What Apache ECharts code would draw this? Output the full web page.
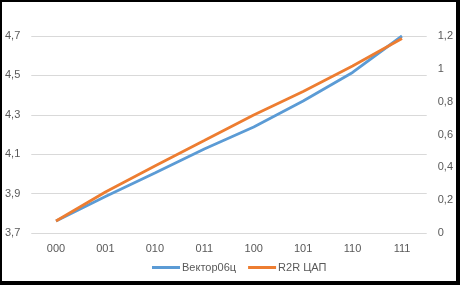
<!DOCTYPE html>
<html>
<head>
<meta charset="utf-8">
<script src="https://cdn.jsdelivr.net/npm/echarts@6/dist/echarts.min.js"></script>
<style>
html,body{margin:0;padding:0;}
#frame{position:relative;width:460px;height:285px;background:#000;}
#chart{position:absolute;left:2px;top:2px;width:454px;height:279px;background:#fff;}
</style>
</head>
<body>
<div id="frame"><div id="chart"></div></div>
<script>
var categories = ['000','001','010','011','100','101','110','111'];
var vectorValues = [3.761, 3.885, 4.005, 4.126, 4.238, 4.370, 4.515, 4.700];
var r2rValues = [0.073, 0.250, 0.408, 0.563, 0.719, 0.862, 1.017, 1.185];
var seriesNames = ['Вектор06ц', 'R2R ЦАП'];
var leftTicks = {min: 3.7, max: 4.7, interval: 0.2};
var rightTicks = {min: 0, max: 1.2, interval: 0.2};

function fmt(v){
  var r = Math.round(v*10)/10;
  return String(r).replace('.', ',');
}
var font = 'Liberation Sans';
var chart = echarts.init(document.getElementById('chart'), null, {renderer:'canvas'});
chart.setOption({
  animation:false,
  backgroundColor:'#fff',
  textStyle:{fontFamily:font},
  grid:{left:28, top:34, right:26, bottom:48, containLabel:false},
  legend:{
    top:255, left:145,
    itemWidth:28, itemHeight:3, itemGap:12,
    icon:'rect',
    textStyle:{color:'#595959', fontSize:11, fontFamily:font, padding:[0,0,0,-3]},
    data:seriesNames
  },
  xAxis:{
    type:'category', data:categories, boundaryGap:true,
    axisLine:{show:false}, axisTick:{show:false},
    axisLabel:{color:'#595959', fontSize:11, margin:10, fontFamily:font}
  },
  yAxis:[
    {type:'value', min:leftTicks.min, max:leftTicks.max, interval:leftTicks.interval,
     position:'left',
     axisLine:{show:false}, axisTick:{show:false},
     splitLine:{lineStyle:{color:'#d9d9d9', width:1}},
     axisLabel:{color:'#595959', fontSize:11, margin:11, formatter:fmt, fontFamily:font}},
    {type:'value', min:rightTicks.min, max:rightTicks.max, interval:rightTicks.interval,
     position:'right',
     axisLine:{show:false}, axisTick:{show:false},
     splitLine:{show:false},
     axisLabel:{color:'#595959', fontSize:11, margin:11, formatter:fmt, fontFamily:font}}
  ],
  series:[
    {name:seriesNames[0], type:'line', yAxisIndex:0, data:vectorValues,
     showSymbol:false, symbol:'none', lineStyle:{color:'#5B9BD5', width:2.8}, itemStyle:{color:'#5B9BD5'}},
    {name:seriesNames[1], type:'line', yAxisIndex:1, data:r2rValues,
     showSymbol:false, symbol:'none', lineStyle:{color:'#ED7D31', width:2.8}, itemStyle:{color:'#ED7D31'}}
  ]
});
</script>
</body>
</html>
